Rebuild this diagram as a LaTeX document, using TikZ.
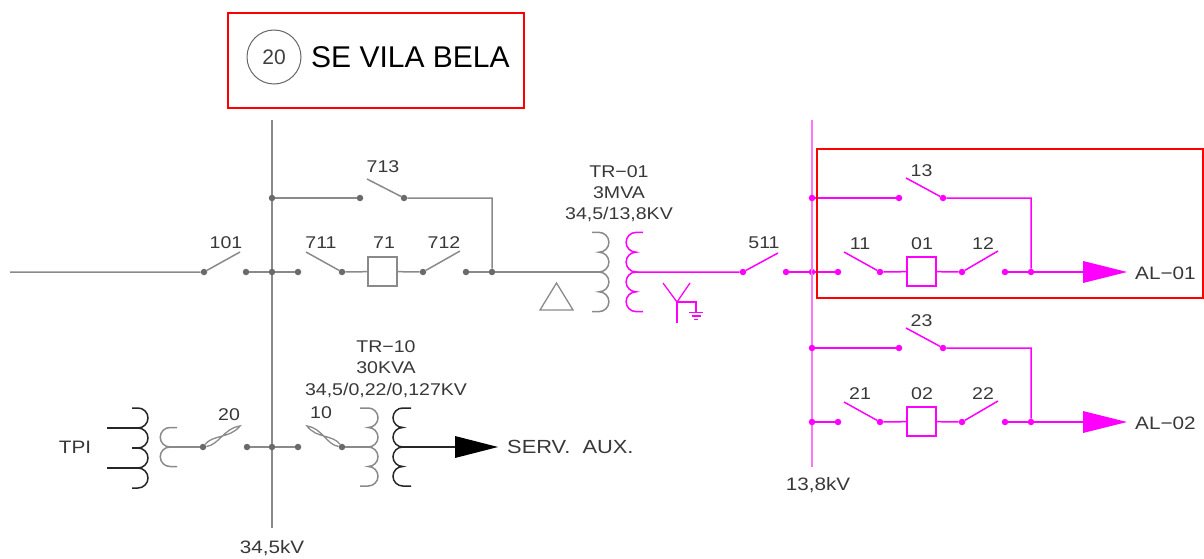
\documentclass[tikz,border=0pt]{standalone}
\usepackage{fontspec}
\setmainfont{Liberation Sans}
\newfontfamily\cad{Liberation Sans}[FakeStretch=1.15]
\usetikzlibrary{calc}
\definecolor{ln}{HTML}{8A8A8A}
\definecolor{dt}{HTML}{6A6A6A}
\definecolor{mg}{HTML}{FF00FF}
\definecolor{txt}{HTML}{383838}
\definecolor{rd}{HTML}{FF0000}
\newcommand{\coilRt}[6]{\draw[#1] (#2,#4) -- (#3,#4) \foreach \k in {1,...,#5}{ arc[start angle=90,end angle=-90,radius=#6pt]} -- (#2,{#4+2*#5*#6});}
\newcommand{\coilLt}[6]{\draw[#1] (#2,#4) -- (#3,#4) \foreach \k in {1,...,#5}{ arc[start angle=90,end angle=270,radius=#6pt]} -- (#2,{#4+2*#5*#6});}
\newcommand{\fusesw}[3]{\draw[#1] (#2) .. controls ($(#2)!0.35!(#3)!6pt!90:(#3)$) and ($(#2)!0.65!(#3)!6pt!-90:(#3)$) .. (#3) .. controls ($(#2)!0.65!(#3)!6pt!90:(#3)$) and ($(#2)!0.35!(#3)!6pt!-90:(#3)$) .. (#2);}
\begin{document}
\begin{tikzpicture}[x=1pt,y=-1pt,
  gl/.style={draw=ln,line width=1.5pt},
  kl/.style={draw=black!85,line width=1.5pt},
  ml/.style={draw=mg,line width=1.5pt},
  busm/.style={draw=mg!55,line width=2.6pt},
  gdot/.style={circle,fill=dt,inner sep=0pt,minimum size=6.5pt},
  mdot/.style={circle,fill=mg,inner sep=0pt,minimum size=6.5pt},
  lbl/.style={font=\cad\fontsize{17}{19}\selectfont,text=txt,inner sep=0pt},
  gbox/.style={draw=ln,line width=1.5pt,minimum width=29pt,minimum height=29pt,inner sep=0pt},
  mbox/.style={draw=mg,line width=1.5pt,minimum width=29pt,minimum height=29pt,inner sep=0pt},
  redbox/.style={draw=rd,line width=2.6pt}]
\useasboundingbox (0,0) rectangle (1204,559);

% ---------- header ----------
\draw[redbox] (228,13) rectangle (524,108);
\node[circle,draw=black!60,line width=1pt,minimum size=54pt,inner sep=0pt,font=\fontsize{21}{23}\selectfont,text=black!75] (num) at (274,57) {20};
\node[anchor=west,inner sep=0pt,font=\fontsize{30}{33}\selectfont] (title) at (311,57) {SE VILA BELA};

% ---------- 34,5 kV bus ----------
\coordinate (b1t) at (272,120);
\coordinate (b1b) at (272,528);
\draw[gl] (b1t) -- (b1b);
\node[lbl,font=\cad\fontsize{18}{20}\selectfont] (b1lab) at (272,548) {34,5kV};

% incoming line and 101
\coordinate (in0) at (10,272);
\node[gdot] (s101a) at (204,272) {};
\coordinate (s101e) at (240,252);
\node[gdot] (s101b) at (246,272) {};
\node[gdot] (b1m) at (272,272) {};
\node[gdot] (d298) at (298,272) {};
\draw[gl] (in0) -- (s101a) -- (s101e);
\draw[gl] (s101b) -- (b1m) -- (d298);
\node[lbl] (l101) at (226,243) {101};

% 711 / 71 / 712
\coordinate (s711e) at (306,252);
\node[gdot] (s711b) at (342,272) {};
\node[gbox] (cb71) at (382.5,271.5) {};
\node[gdot] (s712a) at (423,272) {};
\coordinate (s712e) at (460,251);
\node[gdot] (s712b) at (466,272) {};
\node[gdot] (j492) at (492,272) {};
\coordinate (tr1a) at (599,272);
\draw[gl] (s711e) -- (s711b) -- (cb71) -- (s712a) -- (s712e);
\draw[gl] (s712b) -- (j492) -- (tr1a);
\node[lbl] (l711) at (321,243) {711};
\node[lbl] (l71) at (384,243) {71};
\node[lbl] (l712) at (444,243) {712};

% 713 bypass
\node[gdot] (u272) at (272,198) {};
\node[gdot] (s713a) at (360,198) {};
\node[gdot] (s713b) at (404,198) {};
\coordinate (s713e) at (367,179);
\coordinate (c492) at (492,198);
\draw[gl] (u272) -- (s713a);
\draw[gl] (s713e) -- (s713b) -- (c492) -- (j492);
\node[lbl] (l713) at (383,167) {713};

% ---------- TR-01 ----------
\coilRt{gl}{592}{599}{232.4}{4}{9.9}
\coilLt{ml}{643}{636}{232.4}{4}{9.9}
\node[lbl] (tr1l1) at (619,172) {TR−01};
\node[lbl] (tr1l2) at (619,193) {3MVA};
\node[lbl] (tr1l3) at (619,214) {34,5/13,8KV};
% delta
\draw[gl,line width=1.3pt] (540,310) -- (573,310) -- (556.5,283) -- cycle;
% wye grounded
\draw[ml,line width=1.3pt] (663,283) -- (677,302) -- (690,283);
\draw[ml,line width=1.3pt] (677,302) -- (677,323);
\draw[ml,line width=1.3pt] (677,302) -- (696,302) -- (696,312.5);
\draw[ml,line width=1.2pt] (689,312.5) -- (703,312.5);
\draw[ml,line width=1.2pt] (691.5,316) -- (700.5,316);
\draw[ml,line width=1.2pt] (694,319.5) -- (698,319.5);

% ---------- 511 ----------
\coordinate (tr1o) at (636,272);
\node[mdot] (s511a) at (743,272) {};
\coordinate (s511e) at (778,253);
\node[mdot] (s511b) at (786,272) {};
\node[mdot] (b2m) at (812,272) {};
\draw[ml] (tr1o) -- (s511a) -- (s511e);
\draw[ml] (s511b) -- (b2m);
\node[lbl] (l511) at (764,243) {511};

% ---------- 13,8 kV bus ----------
\coordinate (b2t) at (812,120);
\coordinate (b2b) at (812,467);
\draw[busm] (b2t) -- (b2b);
\node[lbl,font=\cad\fontsize{18}{20}\selectfont] (b2lab) at (818,485) {13,8kV};

% ---------- feeders ----------
\foreach \f/\o/\a/\b/\c/\d/\e in {1/0/13/11/01/12/AL−01, 2/150/23/21/02/22/AL−02}{
  \node[mdot] (f\f u0) at (812,198+\o) {};
  \node[mdot] (f\f ua) at (899,198+\o) {};
  \node[mdot] (f\f ub) at (943,198+\o) {};
  \coordinate (f\f ue) at (906,178+\o);
  \coordinate (f\f uc) at (1031,198+\o);
  \ifnum\f=2 \node[mdot] (f\f m0) at (812,272+\o) {}; \fi
  \node[mdot] (f\f ma) at (838,272+\o) {};
  \coordinate (f\f me) at (844,252+\o);
  \node[mdot] (f\f mb) at (880,272+\o) {};
  \node[mbox] (f\f cb) at (921.5,271.5+\o) {};
  \node[mdot] (f\f mc) at (962,272+\o) {};
  \coordinate (f\f mf) at (998,251+\o);
  \node[mdot] (f\f md) at (1005,272+\o) {};
  \node[mdot] (f\f mj) at (1031,272+\o) {};
  \coordinate (f\f ar) at (1083,272+\o);
  \draw[ml] (f\f u0) -- (f\f ua);
  \draw[ml] (f\f ue) -- (f\f ub) -- (f\f uc) -- (f\f mj);
  \draw[ml] (812,272+\o) -- (f\f ma);
  \draw[ml] (f\f me) -- (f\f mb) -- (f\f cb) -- (f\f mc) -- (f\f mf);
  \draw[ml] (f\f md) -- (f\f mj) -- (f\f ar);
  \fill[mg] (1083,261+\o) -- (1127,272+\o) -- (1083,283+\o) -- cycle;
  \node[lbl] (f\f l3) at (921.5,171+\o) {\a};
  \node[lbl] (f\f l1) at (860,244+\o) {\b};
  \node[lbl] (f\f l0) at (922,244+\o) {\c};
  \node[lbl] (f\f l2) at (983,244+\o) {\d};
  \node[lbl,anchor=west,font=\cad\fontsize{18}{20}\selectfont] (f\f al) at (1135,273+\o) {\e};
}
\draw[redbox] (817,149) -- (1203,149) -- (1203,298) -- (817,298) -- cycle;

% ---------- TPI ----------
\coilRt{kl}{132}{138}{408}{4}{10}
\coordinate (tpa) at (107,428);
\coordinate (tpb) at (138,428);
\coordinate (tpc) at (107,468);
\coordinate (tpd) at (138,468);
\draw[kl] (tpa) -- (tpb);
\draw[kl] (tpc) -- (tpd);
\draw[kl] (132,448) -- (140,448);
\coilLt{gl}{177}{170}{427.5}{2}{9.75}
\node[lbl,font=\cad\fontsize{18}{20}\selectfont] (ltpi) at (75,447) {TPI};
\coordinate (tpo) at (170,447);
\node[gdot] (f20a) at (203,447) {};
\coordinate (f20e) at (240,426);
\draw[gl] (tpo) -- (f20a);
\fusesw{gl,line width=1.3pt}{f20a}{f20e}
\node[lbl] (l20) at (229,415) {20};
\node[gdot] (f20b) at (247,447) {};
\node[gdot] (b1l) at (272,447) {};
\node[gdot] (f10a) at (298,447) {};
\draw[gl] (f20b) -- (b1l) -- (f10a);
\coordinate (f10e) at (307,426);
\node[gdot] (f10b) at (342,447) {};
\fusesw{gl,line width=1.3pt}{f10b}{f10e}
\node[lbl] (l10) at (321,413) {10};

% ---------- TR-10 ----------
\coordinate (tr10a) at (368,447);
\draw[gl] (f10b) -- (tr10a);
\coilRt{gl}{360}{368.25}{408}{4}{9.75}
\coilLt{kl}{411}{402.75}{408}{4}{9.75}
\coordinate (tr10o) at (402.75,447);
\coordinate (arx) at (455,447);
\draw[kl] (tr10o) -- (arx);
\fill[black] (455,436) -- (498,447) -- (455,458) -- cycle;
\node[lbl,anchor=west,font=\cad\fontsize{19}{21}\selectfont] (serv) at (507,447) {SERV.\ \ AUX.};
\node[lbl] (tr10l1) at (386,347) {TR−10};
\node[lbl] (tr10l2) at (386,368) {30KVA};
\node[lbl] (tr10l3) at (386,390) {34,5/0,22/0,127KV};
\end{tikzpicture}
\end{document}
